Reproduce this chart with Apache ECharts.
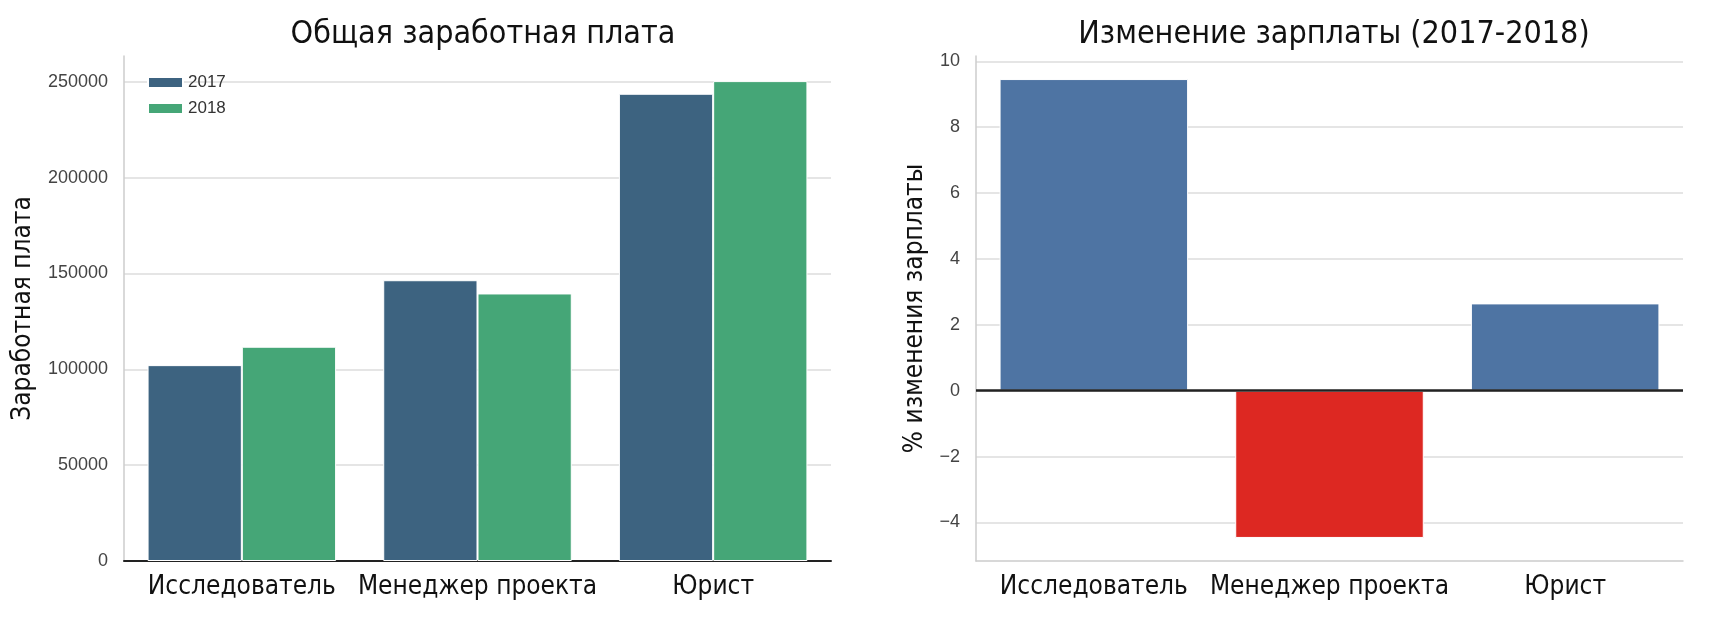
<!DOCTYPE html>
<html>
<head>
<meta charset="utf-8">
<title>Зарплаты</title>
<script src="https://cdn.jsdelivr.net/npm/echarts@6.0.0/dist/echarts.min.js"></script>
<style>
    html, body { margin: 0; padding: 0; background: #fff; }
    #chart { width: 1725px; height: 624px; }
</style>
</head>
<body>
<div id="chart"></div>
<script>
    // ------------------------------
    // Data
    // ------------------------------
    var categories = ['Исследователь', 'Менеджер проекта', 'Юрист'];
    var salary2017 = [102200, 146500, 243800];
    var salary2018 = [111800, 139600, 250400];
    var changePct = [9.46, -4.47, 2.65];

    var salaryTicks = [0, 50000, 100000, 150000, 200000, 250000];
    var changeTicks = [-4, -2, 0, 2, 4, 6, 8, 10];

    var narrow = "'Liberation Sans Narrow', 'DejaVu Sans Condensed', 'Liberation Sans', sans-serif";
    var plain = "'Liberation Sans', Arial, sans-serif";

    var chart = echarts.init(document.getElementById('chart'));

    var option = {
        backgroundColor: '#fff',
        animation: false,

        title: [
            {
                text: 'Общая заработная плата',
                left: 478, top: 14, textAlign: 'center',
                textStyle: { fontFamily: narrow, fontSize: 32, fontWeight: 'normal', color: '#111' }
            },
            {
                text: 'Изменение зарплаты (2017-2018)',
                left: 1329, top: 14, textAlign: 'center',
                textStyle: { fontFamily: narrow, fontSize: 32, fontWeight: 'normal', color: '#111' }
            }
        ],

        legend: {
            data: ['2017', '2018'],
            orient: 'vertical',
            left: 142, top: 69,
            itemWidth: 35, itemHeight: 11, itemGap: 9,
            icon: 'rect',
            textStyle: { fontFamily: plain, fontSize: 17, color: '#333' }
        },

        grid: [
            { left: 124, right: 894, top: 56, bottom: 63 },
            { left: 976, right: 42, top: 56, bottom: 63 }
        ],

        // Horizontal axes
        xAxis: [
            {
                type: 'category', gridIndex: 0, data: categories,
                axisLine: { lineStyle: { color: '#222', width: 2 } },
                axisTick: { show: false },
                axisLabel: { interval: 0, fontFamily: narrow, fontSize: 26, color: '#111', margin: 13 }
            },
            {
                type: 'category', gridIndex: 1, data: categories,
                axisLine: { onZero: false, lineStyle: { color: '#ccc', width: 1.5 } },
                axisTick: { show: false },
                axisLabel: { interval: 0, fontFamily: narrow, fontSize: 26, color: '#111', margin: 13 }
            }
        ],

        // Vertical axes
        yAxis: [
            {
                type: 'value', gridIndex: 0, min: 0, max: 263500,
                name: 'Заработная плата', nameLocation: 'middle', nameGap: 88,
                nameTextStyle: { fontFamily: narrow, fontSize: 26, color: '#111' },
                axisLine: { show: true, lineStyle: { color: '#ccc', width: 1.5 } },
                axisTick: { show: false, customValues: salaryTicks },
                axisLabel: {
                    customValues: salaryTicks, fontFamily: plain, fontSize: 18, color: '#444', margin: 16,
                    formatter: function (v) { return String(v); }
                },
                splitLine: { lineStyle: { color: '#ddd', width: 1.5 } }
            },
            {
                type: 'value', gridIndex: 1, min: -5.17, max: 10.16,
                name: '% изменения зарплаты', nameLocation: 'middle', nameGap: 48,
                nameTextStyle: { fontFamily: narrow, fontSize: 26, color: '#111' },
                axisLine: { show: true, lineStyle: { color: '#ccc', width: 1.5 } },
                axisTick: { show: false, customValues: changeTicks },
                axisLabel: {
                    customValues: changeTicks, fontFamily: plain, fontSize: 18, color: '#444', margin: 16,
                    formatter: function (v) { return String(v).replace('-', '\u2212'); }
                },
                splitLine: { lineStyle: { color: '#ddd', width: 1.5 } }
            }
        ],

        // Series
        series: [
            {
                name: '2017', type: 'bar', xAxisIndex: 0, yAxisIndex: 0,
                data: salary2017,
                barGap: '0%', barCategoryGap: '20%',
                itemStyle: { color: '#3d6380', borderColor: '#fff', borderWidth: 1 }
            },
            {
                name: '2018', type: 'bar', xAxisIndex: 0, yAxisIndex: 0,
                data: salary2018,
                itemStyle: { color: '#45a677', borderColor: '#fff', borderWidth: 1 }
            },
            {
                name: 'change', type: 'bar', xAxisIndex: 1, yAxisIndex: 1,
                data: changePct,
                barCategoryGap: '20%',
                itemStyle: {
                    color: function (p) { return p.value < 0 ? '#dd2822' : '#4e74a3'; },
                    borderColor: '#fff', borderWidth: 1
                },
                markLine: {
                    silent: true, symbol: 'none',
                    label: { show: false },
                    lineStyle: { color: '#222', width: 2.5, type: 'solid' },
                    data: [{ yAxis: 0 }]
                }
            }
        ]
    };

    chart.setOption(option);
</script>
</body>
</html>
